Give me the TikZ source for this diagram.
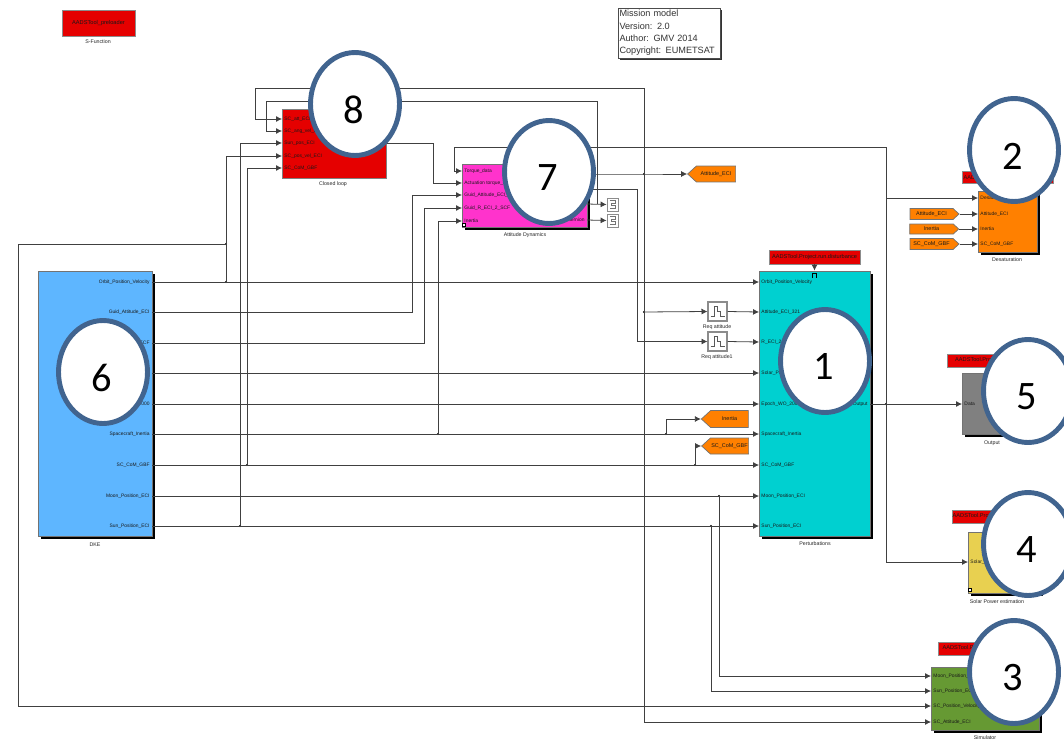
\documentclass[tikz,border=0pt]{standalone}
\usepackage{fontspec}
\setmainfont{Liberation Sans}
\newfontfamily\calloutfont{Carlito}
\usetikzlibrary{arrows.meta,shadows,shapes.geometric,shapes.symbols}
\definecolor{calloutblue}{HTML}{41648F}
\definecolor{tagorange}{HTML}{FF8000}
\tikzset{
  block/.style={draw=black!55,line width=.5pt,inner sep=0pt,general shadow={fill=black,shadow xshift=1.6pt,shadow yshift=-1.6pt}},
  flatblock/.style={draw=black!50,line width=.4pt,inner sep=0pt},
  portin/.style={anchor=west,inner xsep=1.2pt,inner ysep=0pt,font=\fontsize{2.8}{3}\selectfont,text=black!90},
  portout/.style={anchor=east,inner xsep=1.2pt,inner ysep=0pt,font=\fontsize{2.8}{3}\selectfont,text=black!90},
  blockname/.style={inner sep=0pt,font=\fontsize{3}{3.5}\selectfont,text=black!85},
  redtag/.style={draw=black!45,line width=.4pt,fill=red!90!black,inner sep=0pt,font=\fontsize{3.2}{4}\selectfont,text=black!90},
  gototag/.style={shape=signal,signal from=nowhere,signal pointer angle=85,draw=black!55,line width=.4pt,fill=tagorange,inner sep=0pt,font=\fontsize{3.1}{4}\selectfont,text=black!90},
  wire/.style={draw=black!75,line width=.45pt},
  feed/.style={wire,-{Latex[length=3.4pt,width=3.4pt]}},
  joint/.style={circle,fill=black,inner sep=0pt,minimum size=1.2pt},
  pulsebox/.style={draw=black!45,line width=.6pt,fill=white,minimum width=.38cm,minimum height=.38cm,inner sep=0pt,path picture={\draw[black!65,line width=.4pt] (path picture bounding box.center) ++(-7,5) -- ++(4,0) -- ++(0,-10) -- ++(3,0) -- ++(0,5) -- ++(3,0) -- ++(0,5) -- ++(4,0);}},
  scopebox/.style={draw=black!45,line width=.5pt,fill=white,minimum width=.22cm,minimum height=.26cm,inner sep=0pt,path picture={\draw[black!55,line width=.4pt] (path picture bounding box.center) ++(-3,-4) -- ++(6,0) -- ++(0,3) -- ++(-4,0) -- ++(0,2) -- ++(4,0) -- ++(0,3) -- ++(-6,0);}},
  cornermark/.style={draw=black,line width=.4pt,fill=white,inner sep=0pt,minimum size=.07cm},
  callout/.style={ellipse,draw=calloutblue,line width=2.8pt,fill=white,inner sep=0pt,minimum width=1.78cm,minimum height=2.06cm},
  calloutnum/.style={font=\calloutfont\fontsize{23}{25}\selectfont,xshift=-.7pt,yshift=-3.4pt,inner sep=0pt}
}
\begin{document}
\begin{tikzpicture}[>=Latex,x=0.02cm,y=-0.02cm]
\useasboundingbox (0,0) rectangle (1064,740);
\node[redtag,minimum width=1.46cm,minimum height=.52cm] (sfun) at (98.5,23) {\raisebox{-1pt}{AADSTool\_preloader}};
\node[blockname] (sfunname) at (98,42) {S-Function};
\node[draw=black!70,line width=.5pt,fill=white,minimum width=2.04cm,minimum height=1cm,text width=1.98cm,align=left,inner sep=0pt,font=\fontsize{5.2}{7}\selectfont,text=black!80,general shadow={fill=black!80,shadow xshift=1.2pt,shadow yshift=-1.2pt}] (note) at (669,33) {Mission model\\Version: 2.0\\Author: GMV 2014\\Copyright: EUMETSAT};

\node[block,fill={rgb,255:red,94;green,182;blue,255},minimum width=2.28cm,minimum height=5.3cm] (dke) at (95,403.5) {};
\node[blockname] (dkename) at (95,545) {DKE};
\node[portout] (dke1) at (152,282) {Orbit\_Position\_Velocity};
\node[portout] (dke2) at (152,312) {Guid\_Attitude\_ECI};
\node[portout] (dke3) at (152,343) {R\_ECI\_2\_ECF};
\node[portout] (dke4) at (152,373) {Solar\_Pos\_ECI};
\node[portout] (dke5) at (152,404) {Epoch\_WO\_2000};
\node[portout] (dke6) at (152,434) {Spacecraft\_Inertia};
\node[portout] (dke7) at (152,465) {SC\_CoM\_GBF};
\node[portout] (dke8) at (152,496) {Moon\_Position\_ECI};
\node[portout] (dke9) at (152,526) {Sun\_Position\_ECI};

\node[block,fill={rgb,255:red,0;green,208;blue,208},minimum width=2.22cm,minimum height=5.3cm] (pert) at (814.5,403.5) {};
\node[blockname] (pertname) at (815,544) {Perturbations};
\node[redtag,minimum width=1.82cm,minimum height=.28cm] (pertred) at (814.5,257) {AADSTool.Project.run.disturbance};
\draw[feed] (pertred.south) -- (pert.north);
\node[portin] (pert1) at (759,282) {Orbit\_Position\_Velocity};
\node[portin] (pert2) at (759,312) {Attitude\_ECI\_321};
\node[portin] (pert3) at (759,342) {R\_ECI\_2\_ECF};
\node[portin] (pert4) at (759,373) {Solar\_Pos\_ECI};
\node[portin] (pert5) at (759,404) {Epoch\_WO\_2000};
\node[portin] (pert6) at (759,434) {Spacecraft\_Inertia};
\node[portin] (pert7) at (759,465) {SC\_CoM\_GBF};
\node[portin] (pert8) at (759,496) {Moon\_Position\_ECI};
\node[portin] (pert9) at (759,526) {Sun\_Position\_ECI};
\node[portout] (pertout) at (870,404) {Output};
\draw[black,line width=.3pt] (812,278) -- (812,273) -- (816,273) -- (816,278);

\node[flatblock,fill=red!90!black,minimum width=2.08cm,minimum height=1.38cm] (closed) at (334,143.5) {};
\node[blockname] (closedname) at (333,184) {Closed loop};
\node[portin] (cl1) at (282,119) {SC\_att\_ECI};
\node[portin] (cl2) at (282,131) {SC\_ang\_vel\_ECI};
\node[portin] (cl3) at (282,143) {Sun\_pos\_ECI};
\node[portin] (cl4) at (282,156) {SC\_pos\_vel\_ECI};
\node[portin] (cl5) at (282,168) {SC\_CoM\_GBF};
\node[portout] (clout) at (386,143) {};

\node[block,fill={rgb,255:red,255;green,51;blue,204},minimum width=2.5cm,minimum height=1.26cm] (att) at (524.5,195.5) {};
\node[blockname] (attname) at (525,235) {Attitude Dynamics};
\node[portin] (att1) at (462,171) {Torque\_data};
\node[portin] (att2) at (462,183) {Actuation torque\_SCF};
\node[portin] (att3) at (462,195) {Guid\_Attitude\_ECI\_321};
\node[portin] (att4) at (462,208) {Guid\_R\_ECI\_2\_SCF};
\node[portin] (att5) at (462,221) {Inertia};
\node[portout] (attout1) at (587,174) {};
\node[portout] (attout2) at (587,189) {};
\node[portout] (attout3) at (587,204) {};
\node[portout] (attout4) at (587,220) {Quaternion};
\node[cornermark] (attmark) at (464,225) {};
\node[scopebox] (scope1) at (612.5,204.5) {};
\node[scopebox] (scope2) at (612.5,220.5) {};
\node[gototag,signal to=west,minimum width=.96cm,minimum height=.32cm] (attgoto) at (716,174) {Attitude\_ECI};

\node[pulsebox] (req1) at (717.5,311.5) {};
\node[blockname] (req1name) at (717,327) {Req attitude};
\node[pulsebox] (req2) at (717.5,341.5) {};
\node[blockname] (req2name) at (717,357) {Req attitude1};
\node[gototag,signal to=west,minimum width=.94cm,minimum height=.34cm] (inertiagoto) at (729.5,419) {Inertia};
\node[gototag,signal to=west,minimum width=.94cm,minimum height=.32cm] (comgoto) at (729.5,446) {SC\_CoM\_GBF};

\node[block,fill=tagorange,minimum width=1.18cm,minimum height=1.22cm] (desat) at (1007.5,221.5) {};
\node[blockname] (desatname) at (1007,260) {Desaturation};
\node[redtag,minimum width=1.82cm,minimum height=.24cm,text width=1.76cm,align=left] (desatred) at (1007.5,177) {AADSTool};
\node[portin] (des1) at (978,198) {Desaturation};
\node[portin] (des2) at (978,214) {Attitude\_ECI};
\node[portin] (des3) at (978,229) {Inertia};
\node[portin] (des4) at (978,244) {SC\_CoM\_GBF};
\node[gototag,signal to=east,minimum width=.98cm,minimum height=.22cm] (fromatt) at (931.5,214) {Attitude\_ECI};
\node[gototag,signal to=east,minimum width=.98cm,minimum height=.2cm] (frominertia) at (931.5,229) {Inertia};
\node[gototag,signal to=east,minimum width=.98cm,minimum height=.22cm] (fromcom) at (931.5,244) {SC\_CoM\_GBF};

\node[block,fill=black!50,minimum width=1.16cm,minimum height=1.22cm] (output) at (991,403.5) {};
\node[blockname] (outputname) at (992,443) {Output};
\node[redtag,minimum width=1.76cm,minimum height=.26cm] (outputred) at (991,360.5) {AADSTool.Project.run.output};
\node[portin] (data) at (962,404) {Data};

\node[block,fill={rgb,255:red,232;green,208;blue,80},minimum width=1.44cm,minimum height=1.22cm] (solar) at (1004,562.5) {};
\node[blockname] (solarname) at (997,602) {Solar Power estimation};
\node[redtag,minimum width=1.76cm,minimum height=.26cm] (solarred) at (996,516.5) {AADSTool.Project.run.solar\_power};
\node[portin] (solarin) at (968,562) {Solar\_pos};
\node[cornermark] (solarmark) at (970,590) {};

\node[block,fill={rgb,255:red,102;green,153;blue,51},minimum width=2.16cm,minimum height=1.26cm] (sim) at (985,698.5) {};
\node[blockname] (simname) at (985,738) {Simulator};
\node[redtag,minimum width=1.76cm,minimum height=.26cm] (simred) at (982,648.5) {AADSTool.Project.run.simulator};
\node[portin] (sim1) at (931,676) {Moon\_Position\_ECI};
\node[portin] (sim2) at (931,691) {Sun\_Position\_ECI};
\node[portin] (sim3) at (931,706) {SC\_Position\_Velocity};
\node[portin] (sim4) at (931,722) {SC\_Attitude\_ECI};

\coordinate (leftrail) at (18,706);
\coordinate (guidbend) at (412,195);
\coordinate (rbend) at (424,208);
\coordinate (closedbend) at (433,143);
\coordinate (torquetop) at (454,147);
\coordinate (outtop) at (886,147);
\coordinate (desatbranch) at (886,198);
\coordinate (toprail) at (255,88);
\coordinate (topright) at (644,88);
\coordinate (secondrail) at (266,101);
\coordinate (secondright) at (597,101);
\coordinate (scopebranch) at (597,204);
\coordinate (reqbend) at (637,189);
\coordinate (attbottom) at (644,722);

\node[joint] (j1) at (226,282) {};
\node[joint] (j2) at (226,244) {};
\node[joint] (j3) at (438,434) {};
\node[joint] (j4) at (666,434) {};
\node[joint] (j5) at (247,465) {};
\node[joint] (j6) at (695,465) {};
\node[joint] (j7) at (719,496) {};
\node[joint] (j8) at (240,526) {};
\node[joint] (j9) at (711,526) {};
\node[joint] (j10) at (886,404) {};
\node[joint] (j11) at (644,174) {};
\node[joint] (j12) at (644,312) {};

\draw[feed] (dke1.east) -- (pert1.west);
\draw[feed] (dke2.east) -| (guidbend) -- (att3.west);
\draw[feed] (dke3.east) -| (rbend) -- (att4.west);
\draw[feed] (dke4.east) -- (pert4.west);
\draw[feed] (dke5.east) -- (pert5.west);
\draw[feed] (dke6.east) -- (pert6.west);
\draw[feed] (dke7.east) -- (pert7.west);
\draw[feed] (dke8.east) -- (pert8.west);
\draw[feed] (dke9.east) -- (pert9.west);
\draw[feed] (j1.center) |- (cl4.west);
\draw[feed] (j2.center) -| (leftrail) -- (sim3.west);
\draw[feed] (j3.center) |- (att5.west);
\draw[feed] (j4.center) |- (inertiagoto.west);
\draw[feed] (j5.center) |- (cl5.west);
\draw[feed] (j6.center) |- (comgoto.west);
\draw[feed] (j7.center) |- (sim1.west);
\draw[feed] (j8.center) |- (cl3.west);
\draw[feed] (j9.center) |- (sim2.west);
\draw[feed] (pertout.east) -- (data.west);
\draw[feed] (j10.center) |- (solarin.west);
\draw[feed] (j10.center) -- (outtop) -- (torquetop) |- (att1.west);
\draw[feed] (desatbranch) -- (des1.west);
\draw[feed] (clout.east) -- (closedbend) |- (att2.west);
\draw[feed] (attout1.east) -- (j11.center) -- (attgoto.west);
\draw[feed] (j11.center) -- (topright) -- (toprail) |- (cl1.west);
\draw[feed] (j11.center) -- (attbottom) -- (sim4.west);
\draw[feed] (j12.center) -- (req1.west);
\draw[feed] (req1.east) -- (pert2.west);
\draw[feed] (attout2.east) -- (reqbend) |- (req2.west);
\draw[feed] (req2.east) -- (pert3.west);
\draw[feed] (attout3.east) -- (scope1.west);
\draw[feed] (attout4.east) -- (scope2.west);
\draw[feed] (scopebranch) -- (secondright) -- (secondrail) |- (cl2.west);
\draw[feed] (fromatt.east) -- (des2.west);
\draw[feed] (frominertia.east) -- (des3.west);
\draw[feed] (fromcom.east) -- (des4.west);

\node[callout,label={[calloutnum]center:1}] (c1) at (825,361) {};
\node[callout,label={[calloutnum]center:2}] (c2) at (1014,150) {};
\node[callout,label={[calloutnum]center:3}] (c3) at (1014,672) {};
\node[callout,label={[calloutnum]center:4}] (c4) at (1028,544) {};
\node[callout,label={[calloutnum]center:5}] (c5) at (1028,391) {};
\node[callout,label={[calloutnum]center:6}] (c6) at (103,372) {};
\node[callout,label={[calloutnum]center:7}] (c7) at (549,172) {};
\node[callout,label={[calloutnum]center:8}] (c8) at (355,104) {};
\end{tikzpicture}
\end{document}
